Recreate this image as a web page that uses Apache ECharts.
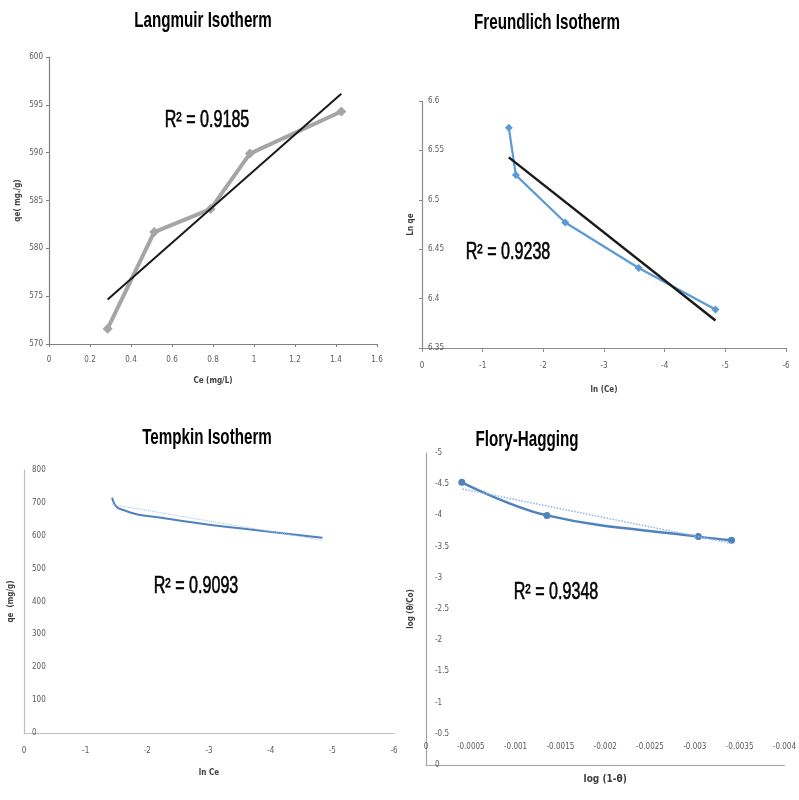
<!DOCTYPE html>
<html>
<head>
<meta charset="utf-8">
<title>Adsorption Isotherms</title>
<script src="https://cdn.jsdelivr.net/npm/echarts@6/dist/echarts.min.js"></script>
<style>
  html, body { margin: 0; padding: 0; background: #fff; }
  #chart { width: 799px; height: 800px; }
</style>
</head>
<body>
<div id="chart"></div>
<script>
// Langmuir: qe against Ce
const langmuirCe = [0.286, 0.513, 0.788, 0.98, 1.426];
const langmuirQe = [571.6, 581.7, 584.1, 589.9, 594.3];

// Freundlich: ln qe against ln Ce
const freundlichLnCe = [-1.431, -1.547, -2.361, -3.572, -4.838];
const freundlichLnQe = [6.573, 6.525, 6.477, 6.431, 6.389];

// Tempkin: qe against ln Ce
const tempkinLnCe = [-1.43, -1.55, -2.36, -3.57, -4.84];
const tempkinQe = [716, 682, 651, 621, 594];

// Flory-Huggins: log(theta/Co) against log(1-theta)
const floryLog1mTheta = [-0.0004, -0.00135, -0.00304, -0.00341];
const floryLogThetaCo = [-4.53, -4.0, -3.66, -3.60];

// Panel titles and fit results
const panelTitles = ['Langmuir Isotherm', 'Freundlich Isotherm', 'Tempkin Isotherm', 'Flory-Hagging'];
const rSquared = ['0.9185', '0.9238', '0.9093', '0.9348'];

const pairs = (xs, ys) => xs.map((x, i) => [x, ys[i]]);

// least-squares straight line through the points, drawn between the extreme x values
function linearFit(xs, ys) {
  const n = xs.length;
  const mx = xs.reduce((a, b) => a + b, 0) / n;
  const my = ys.reduce((a, b) => a + b, 0) / n;
  let sxy = 0, sxx = 0;
  for (let i = 0; i < n; i++) {
    sxy += (xs[i] - mx) * (ys[i] - my);
    sxx += (xs[i] - mx) * (xs[i] - mx);
  }
  const k = sxy / sxx, b = my - k * mx;
  const x0 = Math.min(...xs), x1 = Math.max(...xs);
  return [[x0, k * x0 + b], [x1, k * x1 + b]];
}

const FONT = '"Liberation Sans Narrow", "DejaVu Sans Condensed", "Liberation Sans", sans-serif';
const labelStyle = { fontSize: 8, color: '#595959', fontFamily: FONT };
const nameStyle = { fontSize: 8, color: '#404040', fontFamily: FONT, fontWeight: 'bold' };
const trim = v => String(+v.toFixed(4));

function axisLine(color) {
  return { show: true, onZero: false, lineStyle: { color: color, width: 1.2 } };
}

const chart = echarts.init(document.getElementById('chart'));

const option = {
  animation: false,
  backgroundColor: '#ffffff',
  grid: [
    { left: 49, top: 57, width: 328, height: 287 },
    { left: 422, top: 101, width: 364, height: 247 },
    { left: 24, top: 470, width: 370, height: 263 },
    { left: 426, top: 453, width: 367, height: 312 }
  ],
  xAxis: [
    {
      gridIndex: 0, type: 'value', min: 0, max: 1.6, interval: 0.2,
      name: 'Ce (mg/L)', nameLocation: 'middle', nameGap: 33, nameTextStyle: nameStyle,
      axisLine: axisLine('#808080'),
      axisTick: { show: true, length: 3, lineStyle: { color: '#808080' } },
      axisLabel: Object.assign({ margin: 12, formatter: trim }, labelStyle),
      splitLine: { show: false }
    },
    {
      gridIndex: 1, type: 'value', min: -6, max: 0, interval: 1, inverse: true,
      name: 'ln (Ce)', nameLocation: 'middle', nameGap: 38, nameTextStyle: nameStyle,
      axisLine: axisLine('#8c8c8c'),
      axisTick: { show: true, length: 4, lineStyle: { color: '#8c8c8c' } },
      axisLabel: Object.assign({ margin: 14, formatter: trim }, labelStyle),
      splitLine: { show: false }
    },
    {
      gridIndex: 2, type: 'value', min: -6, max: 0, interval: 1, inverse: true,
      name: 'ln Ce', nameLocation: 'middle', nameGap: 36, nameTextStyle: nameStyle,
      axisLine: axisLine('#bfbfbf'),
      axisTick: { show: false },
      axisLabel: Object.assign({ margin: 14, formatter: trim }, labelStyle),
      splitLine: { show: false }
    },
    {
      gridIndex: 3, type: 'value', min: -0.004, max: 0, interval: 0.0005, inverse: true,
      name: 'log (1-θ)', nameLocation: 'middle', nameGap: 9,
      nameTextStyle: { fontSize: 10, color: '#404040', fontFamily: FONT, fontWeight: 'bold' },
      axisLine: axisLine('#a6a6a6'),
      axisTick: { show: false },
      axisLabel: Object.assign({ inside: true, margin: 14, formatter: trim }, labelStyle),
      splitLine: { show: false }
    }
  ],
  yAxis: [
    {
      gridIndex: 0, type: 'value', min: 570, max: 600, interval: 5,
      name: 'qe( mg./g)', nameLocation: 'middle', nameGap: 27, nameTextStyle: nameStyle,
      axisLine: axisLine('#808080'),
      axisTick: { show: true, length: 3, lineStyle: { color: '#808080' } },
      axisLabel: Object.assign({ margin: 6 }, labelStyle),
      splitLine: { show: false }
    },
    {
      gridIndex: 1, type: 'value', min: 6.35, max: 6.6, interval: 0.05,
      name: 'Ln qe', nameLocation: 'middle', nameGap: 7, nameTextStyle: nameStyle,
      axisLine: axisLine('#8c8c8c'),
      axisTick: { show: true, length: 3, lineStyle: { color: '#8c8c8c' } },
      axisLabel: Object.assign({ inside: true, margin: 6, formatter: trim }, labelStyle),
      splitLine: { show: false }
    },
    {
      gridIndex: 2, type: 'value', min: 0, max: 800, interval: 100,
      name: 'qe  (mg/g)', nameLocation: 'middle', nameGap: 9, nameTextStyle: nameStyle,
      axisLine: axisLine('#bfbfbf'),
      axisTick: { show: false },
      axisLabel: Object.assign({ inside: true, margin: 8 }, labelStyle),
      splitLine: { show: false }
    },
    {
      gridIndex: 3, type: 'value', min: -5, max: 0, interval: 0.5, inverse: true,
      name: 'log (θ/Co)', nameLocation: 'middle', nameGap: 11, nameTextStyle: nameStyle,
      axisLine: axisLine('#a6a6a6'),
      axisTick: { show: false },
      axisLabel: Object.assign({ inside: true, margin: 9, formatter: trim }, labelStyle),
      splitLine: { show: false }
    }
  ],
  series: [
    // Langmuir data and its linear fit
    {
      type: 'line', xAxisIndex: 0, yAxisIndex: 0, z: 2,
      data: pairs(langmuirCe, langmuirQe),
      symbol: 'diamond', symbolSize: 10,
      lineStyle: { color: '#a5a5a5', width: 4 },
      itemStyle: { color: '#a5a5a5' }
    },
    {
      type: 'line', xAxisIndex: 0, yAxisIndex: 0, z: 3,
      data: linearFit(langmuirCe, langmuirQe),
      symbol: 'none',
      lineStyle: { color: '#1a1a1a', width: 2 }
    },
    // Freundlich data and its linear fit
    {
      type: 'line', xAxisIndex: 1, yAxisIndex: 1, z: 2,
      data: pairs(freundlichLnCe, freundlichLnQe),
      symbol: 'diamond', symbolSize: 8,
      lineStyle: { color: '#5b9bd5', width: 2.2 },
      itemStyle: { color: '#5b9bd5' }
    },
    {
      type: 'line', xAxisIndex: 1, yAxisIndex: 1, z: 3,
      data: linearFit(freundlichLnCe, freundlichLnQe),
      symbol: 'none',
      lineStyle: { color: '#1a1a1a', width: 2.5 }
    },
    // Tempkin curve and its faint linear fit
    {
      type: 'line', xAxisIndex: 2, yAxisIndex: 2, z: 2,
      data: pairs(tempkinLnCe, tempkinQe),
      smooth: 0.5, showSymbol: false, symbol: 'none',
      lineStyle: { color: '#4f81bd', width: 2 }
    },
    {
      type: 'line', xAxisIndex: 2, yAxisIndex: 2, z: 3,
      data: linearFit(tempkinLnCe, tempkinQe),
      symbol: 'none',
      lineStyle: { color: '#9dc3e6', width: 1, type: 'dotted' }
    },
    // Flory-Huggins curve and its dotted linear fit
    {
      type: 'line', xAxisIndex: 3, yAxisIndex: 3, z: 2,
      data: pairs(floryLog1mTheta, floryLogThetaCo),
      smooth: 0.4, symbol: 'circle', symbolSize: 7,
      lineStyle: { color: '#4f81bd', width: 2.5 },
      itemStyle: { color: '#4f81bd' }
    },
    {
      type: 'line', xAxisIndex: 3, yAxisIndex: 3, z: 3,
      data: linearFit(floryLog1mTheta, floryLogThetaCo),
      symbol: 'none',
      lineStyle: { color: '#8eb4e3', width: 1.5, type: 'dotted' }
    }
  ],
  graphic: []
};

// panel titles and R² annotations, set in a condensed face
const titlePos = [[203, 21], [547, 23], [207, 438], [527, 440]];
const r2Pos = [[207, 121], [508, 253], [196, 587], [556, 593]];

function condensedText(str, pos, size, weight, sx, strokeWidth) {
  return {
    type: 'text', x: pos[0], y: pos[1], scaleX: sx, silent: true, z: 100,
    style: {
      text: str, fill: '#000000',
      stroke: '#000000', lineWidth: strokeWidth,
      fontSize: size, fontWeight: weight, fontFamily: '"Liberation Sans", Arial, sans-serif',
      align: 'center', verticalAlign: 'middle',
      textAlign: 'center', textVerticalAlign: 'middle'
    }
  };
}

panelTitles.forEach((t, i) => option.graphic.push(condensedText(t, titlePos[i], 22, 'bold', 0.69, 0)));
rSquared.forEach((r, i) => option.graphic.push(condensedText('R² = ' + r, r2Pos[i], 23, 'normal', 0.7, 0.6)));

chart.setOption(option);
</script>
</body>
</html>
